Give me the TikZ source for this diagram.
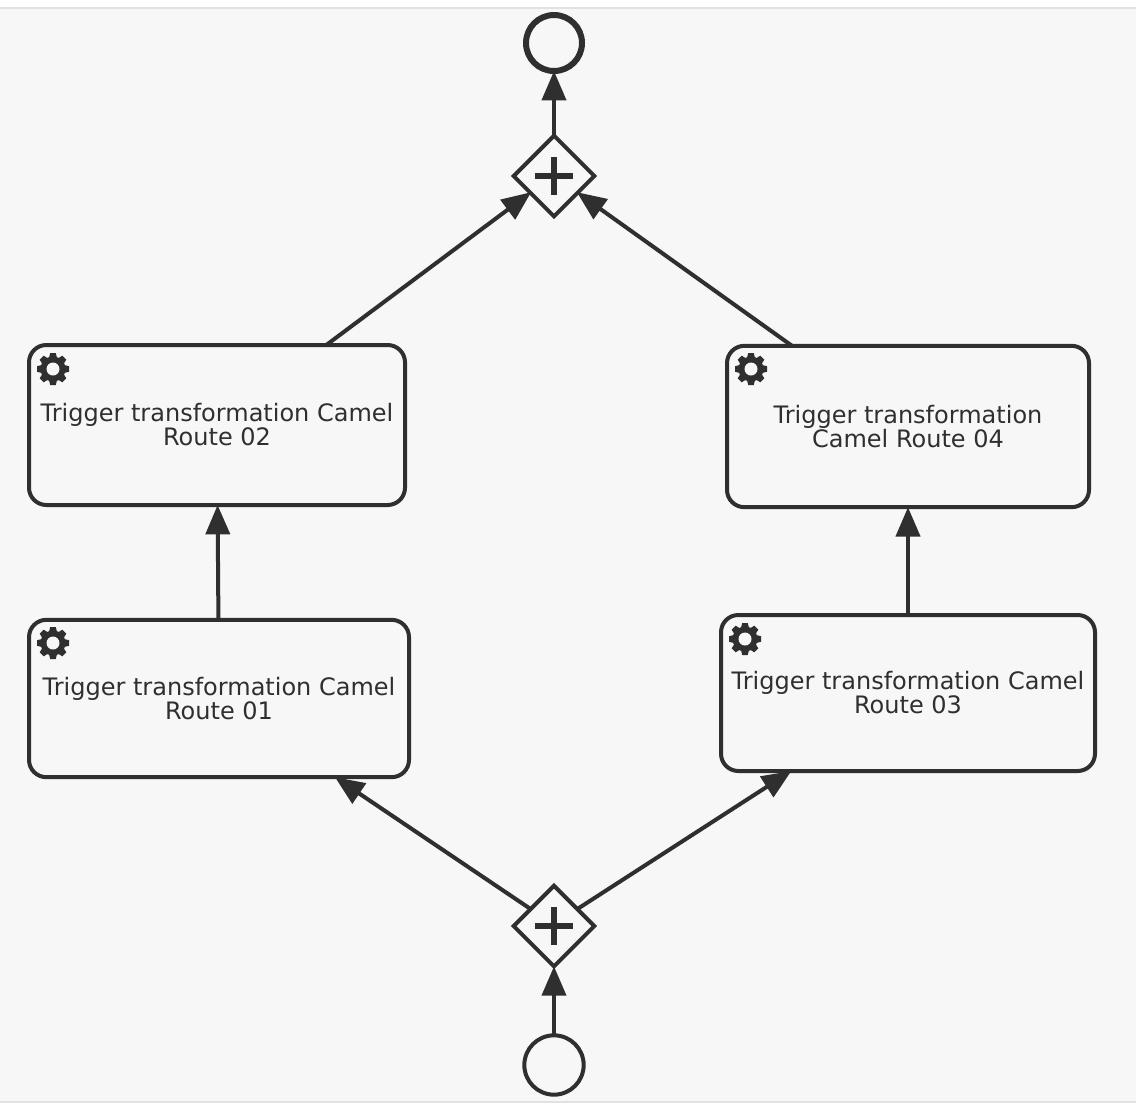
\documentclass[tikz,border=0pt]{standalone}
\usepackage{fontspec}
\setmainfont{DejaVu Sans}
\usetikzlibrary{arrows.meta,shapes.geometric}
\definecolor{inkgray}{HTML}{2F2F2F}
\definecolor{canvasgray}{HTML}{F7F7F7}
\definecolor{edgegray}{HTML}{E2E2E2}
\tikzset{
    line cap=butt,line join=miter,
    task/.style={draw=inkgray,fill=canvasgray,line width=3pt,rounded corners=13pt,outer sep=0pt,
        align=center,text=inkgray,inner sep=0pt,font=\fontsize{18}{18}\selectfont},
    gateway/.style={diamond,draw=inkgray,fill=canvasgray,line width=3pt,inner sep=0pt,outer sep=0pt,
        minimum width=60.5pt,minimum height=60.5pt},
    start event/.style={circle,draw=inkgray,fill=canvasgray,line width=3pt,inner sep=0pt,outer sep=0pt,
        minimum size=44.5pt},
    end event/.style={circle,draw=inkgray,fill=canvasgray,line width=4.5pt,inner sep=0pt,outer sep=0pt,
        minimum size=42pt},
    flow/.style={draw=inkgray,line width=3pt,-{Triangle[length=22pt,width=18pt]}},
    gear mark/.pic={
        \foreach \ang in {0,45,...,315}
            \fill[inkgray,rotate=\ang] (-4,-11) -- (-2.8,-16) -- (2.8,-16) -- (4,-11) -- cycle;
        \fill[inkgray] (0,0) circle[radius=12.5*.75pt];
        \fill[canvasgray] (0,0) circle[radius=6.5*.75pt];
    },
    plus mark/.pic={
        \draw[inkgray,line width=4.5pt] (-19,0) -- (19,0) (0,-19) -- (0,19);
    },
}
\begin{document}
\begin{tikzpicture}[x=.75pt,y=-.75pt]
    \useasboundingbox (0,0) rectangle (1136,1104);
    % canvas
    \fill[white] (0,0) rectangle (1136,1104);
    \fill[canvasgray] (0,8) rectangle (1136,1102);
    \draw[edgegray,line width=1.2pt] (0,8) -- (1136,8) (0,1102) -- (1136,1102);

    % events and gateways
    \node[start event] (start) at (554,1065) {};
    \node[gateway] (split) at (554,926) {};
    \node[gateway] (merge) at (554,176) {};
    \node[end event] (finish) at (554,43) {};

    % tasks
    \node[task,minimum width=285pt,minimum height=118pt] (route01) at (219,698.5)
        {Trigger transformation Camel\\Route 01};
    \node[task,minimum width=282pt,minimum height=120pt] (route02) at (217,425)
        {Trigger transformation Camel\\Route 02};
    \node[task,minimum width=280.5pt,minimum height=117pt] (route03) at (908,693)
        {Trigger transformation Camel\\Route 03};
    \node[task,minimum width=271.5pt,minimum height=121pt] (route04) at (908,426.5)
        {Trigger transformation\\Camel Route 04};

    % marks
    \pic at (merge) {plus mark};
    \pic at (split) {plus mark};
    \pic at (53,643) {gear mark};
    \pic at (53,369) {gear mark};
    \pic at (745,639) {gear mark};
    \pic at (751,369) {gear mark};

    % flows
    \draw[flow] (start) -- (split);
    \draw[flow] ([shift={(-3pt,-2pt)}]split.north west) -- ([xshift=87pt]route01.south);
    \draw[flow] ([shift={(3pt,-2pt)}]split.north east) -- ([xshift=-87.5pt]route03.south);
    \draw[flow] (route01) -- (route02);
    \draw[flow] (route03) -- (route04);
    \draw[flow] ([xshift=82pt]route02.north) -- ([shift={(-2pt,3pt)}]merge.south west);
    \draw[flow] ([xshift=-87pt]route04.north) -- ([shift={(2pt,3pt)}]merge.south east);
    \draw[flow] (merge) -- (finish);
\end{tikzpicture}
\end{document}
